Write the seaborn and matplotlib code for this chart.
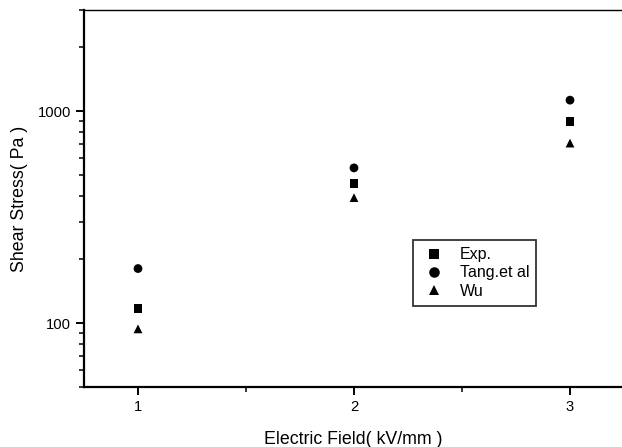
import matplotlib
matplotlib.use("Agg")
import matplotlib.pyplot as plt
import seaborn as sns
import pandas as pd
from matplotlib.ticker import LogLocator, FixedLocator, NullFormatter

field = [1, 2, 3]
exp_vals = [117, 454, 897]
tang_vals = [181, 540, 1127]
wu_vals = [94, 391, 707]
series_names = ["Exp.", "Tang.et al", "Wu"]

df = pd.DataFrame({
    "field": field * 3,
    "stress": exp_vals + tang_vals + wu_vals,
    "series": [series_names[0]] * 3 + [series_names[1]] * 3 + [series_names[2]] * 3,
})

sns.set_theme(style="white")
plt.rcParams["font.family"] = ["Liberation Sans", "DejaVu Sans"]
plt.rcParams["text.color"] = "black"
plt.rcParams["axes.labelcolor"] = "black"
plt.rcParams["xtick.color"] = "black"
plt.rcParams["ytick.color"] = "black"

fig = plt.figure(figsize=(6.22, 4.47), dpi=100)
ax = fig.add_axes([84 / 622, 1 - 387 / 447, (622 - 84) / 622, (387 - 10) / 447])

sns.scatterplot(data=df, x="field", y="stress", style="series",
                markers={"Exp.": "s", "Tang.et al": "o", "Wu": "^"},
                color="black", s=40, edgecolor="black", linewidth=0, ax=ax,
                style_order=series_names)

ax.set_yscale("log")
ax.set_ylim(50, 3000)
ax.set_xlim(0.75, 0.75 + 538 / 216)
ax.set_xticks([1, 2, 3])
ax.set_xticklabels(["1", "2", "3"])
ax.xaxis.set_minor_locator(FixedLocator([1.5, 2.5]))
ax.set_yticks([100, 1000])
ax.set_yticklabels(["100", "1000"])
ax.yaxis.set_minor_locator(LogLocator(base=10, subs=range(2, 10)))
ax.yaxis.set_minor_formatter(NullFormatter())

for side in ["left", "bottom", "top"]:
    ax.spines[side].set_visible(True)
    ax.spines[side].set_color("black")
    ax.spines[side].set_linewidth(1.6)
ax.spines["top"].set_linewidth(1.0)
ax.spines["right"].set_visible(False)

ax.tick_params(axis="both", which="major", direction="out", length=5.5, width=1.4,
               color="black", labelcolor="black", labelsize=10.6,
               left=True, bottom=True, pad=4)
ax.tick_params(axis="both", which="minor", direction="out", length=3.5, width=1.1,
               color="black", left=True, bottom=True)

ax.set_xlabel("Electric Field( kV/mm )", fontsize=12.8, labelpad=12, color="black")
ax.set_ylabel("Shear Stress( Pa )", fontsize=12.8, labelpad=7, color="black")
ax.grid(False)

handles, labels = ax.get_legend_handles_labels()
leg = ax.legend(handles, labels, loc="upper left",
                bbox_to_anchor=((413 - 84) / 538, (387 - 240) / 377),
                borderaxespad=0, labelcolor="black",
                frameon=True, fancybox=False, edgecolor="black", fontsize=11.5,
                handletextpad=0.77, borderpad=0.45, labelspacing=0.2,
                handlelength=1.7, markerscale=1.2)
leg.get_frame().set_linewidth(1.3)

fig.savefig("out.png", dpi=100)
